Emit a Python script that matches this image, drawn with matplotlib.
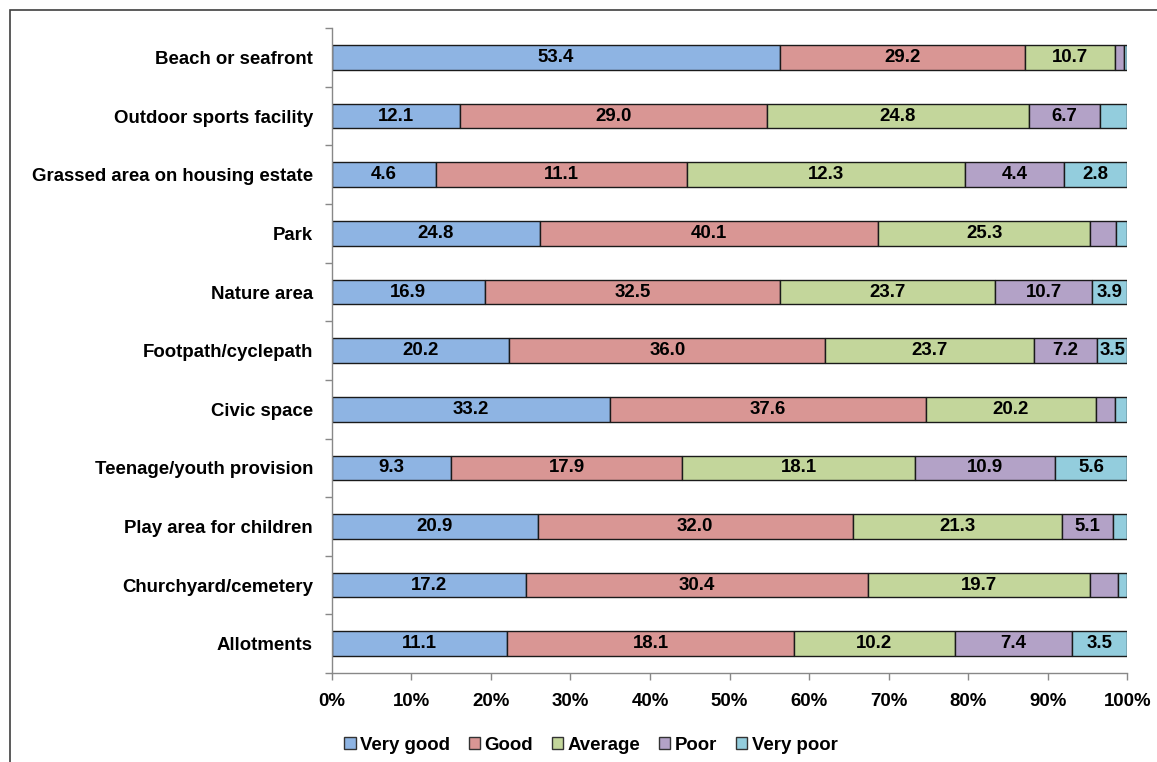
import matplotlib
matplotlib.use("Agg")
import matplotlib.pyplot as plt
import numpy as np
from matplotlib.patches import Rectangle

plt.rcParams['font.family'] = ['Liberation Sans', 'DejaVu Sans']
plt.rcParams['font.weight'] = 'bold'

categories = [
    "Beach or seafront",
    "Outdoor sports facility",
    "Grassed area on housing estate",
    "Park",
    "Nature area",
    "Footpath/cyclepath",
    "Civic space",
    "Teenage/youth provision",
    "Play area for children",
    "Churchyard/cemetery",
    "Allotments",
]

very_good = [53.4, 12.1, 4.6, 24.8, 16.9, 20.2, 33.2, 9.3, 20.9, 17.2, 11.1]
good      = [29.2, 29.0, 11.1, 40.1, 32.5, 36.0, 37.6, 17.9, 32.0, 30.4, 18.1]
average   = [10.7, 24.8, 12.3, 25.3, 23.7, 23.7, 20.2, 18.1, 21.3, 19.7, 10.2]
poor      = [1.1, 6.7, 4.4, 3.0, 10.7, 7.2, 2.3, 10.9, 5.1, 2.5, 7.4]
very_poor = [0.4, 2.6, 2.8, 1.4, 3.9, 3.5, 1.5, 5.6, 1.5, 0.8, 3.5]

series_names = ["Very good", "Good", "Average", "Poor", "Very poor"]
series_colors = ["#8EB4E3", "#D99694", "#C3D69B", "#B3A2C7", "#93CDDD"]
x_ticks = [0, 10, 20, 30, 40, 50, 60, 70, 80, 90, 100]

FS = 13.4

series = np.array([very_good, good, average, poor, very_poor], dtype=float)
totals = series.sum(axis=0)
shares = series / totals * 100.0

fig = plt.figure(figsize=(11.57, 7.62), dpi=100)
ax = fig.add_axes([0.2867, 0.1168, 0.9745 - 0.2867, 0.9629 - 0.1168])

y = np.arange(len(categories))
left = np.zeros(len(categories))
bar_h = 0.42
for name, color, vals, raw in zip(series_names, series_colors, shares, series):
    ax.barh(y, vals, left=left, height=bar_h, color=color,
            edgecolor="#1a1a1a", linewidth=1.0, label=name)
    for yi, (l, w, r) in enumerate(zip(left, vals, raw)):
        if w >= 3.7:
            ax.text(l + w / 2, yi, f"{r:.1f}", ha="center", va="center",
                    fontsize=FS, fontweight="bold", color="black")
    left = left + vals

ax.set_xlim(0, 100)
ax.set_ylim(len(categories) - 0.5, -0.5)

ax.set_xticks(x_ticks)
ax.set_xticklabels([f"{t}%" for t in x_ticks])
ax.set_yticks(y)
ax.set_yticklabels(categories)
ax.set_yticks(np.arange(len(categories) + 1) - 0.5, minor=True)

ax.tick_params(axis="y", which="major", length=0, pad=13.5, labelsize=FS)
ax.tick_params(axis="y", which="minor", length=5, color="#888888", width=1)
ax.tick_params(axis="x", which="major", length=5, color="#888888", width=1,
               pad=9.5, labelsize=FS)
for lab in ax.get_xticklabels() + ax.get_yticklabels():
    lab.set_fontweight("bold")

for side in ("top", "right"):
    ax.spines[side].set_visible(False)
for side in ("left", "bottom"):
    ax.spines[side].set_color("#888888")
    ax.spines[side].set_linewidth(1)

leg = fig.legend(loc="center", bbox_to_anchor=(591 / 1157, 1 - 745 / 762),
                 ncol=5, frameon=False, handlelength=0.6,
                 handleheight=0.6, handletextpad=0.25, columnspacing=1.0,
                 prop={"weight": "bold", "size": FS})
for h in leg.legend_handles:
    h.set_edgecolor("#333333")
    h.set_linewidth(1)

# outer chart frame running off the page edges
fig.patches.append(Rectangle((10 / 1157, -0.1), 1.2, 1 - 10 / 762 + 0.1,
                             transform=fig.transFigure, fill=False,
                             edgecolor="#404040", linewidth=1.2))

fig.savefig("out.png", dpi=100)
